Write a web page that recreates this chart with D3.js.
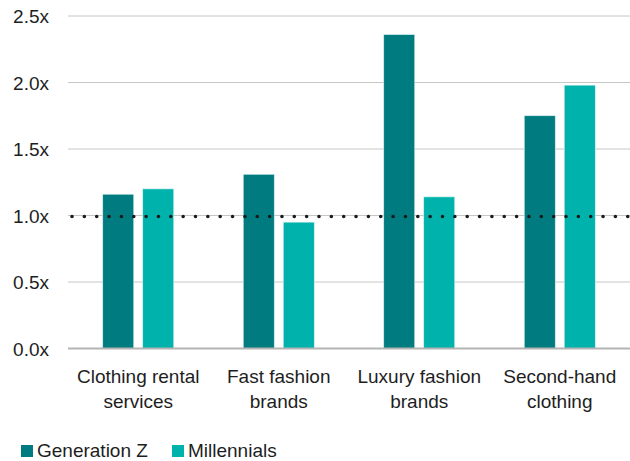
<!DOCTYPE html>
<html>
<head>
<meta charset="utf-8">
<script src="https://cdn.jsdelivr.net/npm/d3@7"></script>
<style>
  body { margin: 0; background: #fff; }
  svg text { font-family: "Liberation Sans", Arial, sans-serif; fill: #1e1e1e; }
</style>
</head>
<body>
<div id="chart"></div>
<script>
var categories = [["Clothing rental", "services"], ["Fast fashion", "brands"], ["Luxury fashion", "brands"], ["Second-hand", "clothing"]];
var seriesNames = ["Generation Z", "Millennials"];
var genZ = [1.16, 1.31, 2.36, 1.75];
var millennials = [1.20, 0.95, 1.14, 1.98];
var yTicks = [0, 0.5, 1.0, 1.5, 2.0, 2.5];
var referenceLine = 1.0;

var colors = ["#007c80", "#00b2ac"];
var width = 630, height = 461;
var margin = { top: 16, right: 0, bottom: 112.5, left: 68 };

var svg = d3.select("#chart").append("svg")
  .attr("width", width)
  .attr("height", height);

var x = d3.scaleBand()
  .domain(d3.range(categories.length))
  .range([margin.left, width - margin.right]);

var y = d3.scaleLinear()
  .domain([0, 2.5])
  .range([height - margin.bottom, margin.top]);

// gridlines
svg.append("g").selectAll("line")
  .data(yTicks.filter(function(d) { return d > 0; }))
  .enter().append("line")
  .attr("x1", margin.left).attr("x2", width - margin.right)
  .attr("y1", function(d) { return y(d); })
  .attr("y2", function(d) { return y(d); })
  .attr("stroke", "#c6c6c6")
  .attr("stroke-width", 1);

// y labels
svg.append("g").selectAll("text")
  .data(yTicks)
  .enter().append("text")
  .attr("x", 49)
  .attr("y", function(d) { return y(d) + 7; })
  .attr("text-anchor", "end")
  .style("font-size", "19px")
  .text(function(d) { return d.toFixed(1) + "x"; });

// bars
var barW = 31, gap = 9;
var series = [genZ, millennials];
series.forEach(function(vals, s) {
  svg.append("g").selectAll("rect")
    .data(vals)
    .enter().append("rect")
    .attr("x", function(d, i) {
      var c = x(i) + x.bandwidth() / 2;
      return s === 0 ? c - gap / 2 - barW : c + gap / 2;
    })
    .attr("y", function(d) { return y(d); })
    .attr("width", barW)
    .attr("height", function(d) { return y(0) - y(d); })
    .attr("fill", colors[s])
    .attr("stroke", "#d8f0ef")
    .attr("stroke-width", 0.6);
});

// baseline
svg.append("line")
  .attr("x1", margin.left).attr("x2", width - margin.right)
  .attr("y1", y(0)).attr("y2", y(0))
  .attr("stroke", "#b4b4b4")
  .attr("stroke-width", 2);

// dotted reference line
svg.append("line")
  .attr("x1", margin.left + 4).attr("x2", width)
  .attr("y1", y(referenceLine) + 1).attr("y2", y(referenceLine) + 1)
  .attr("stroke", "#1a1a1a")
  .attr("stroke-width", 3.6)
  .attr("stroke-linecap", "round")
  .attr("stroke-dasharray", "0 12.35");

// x labels
var xl = svg.append("g").selectAll("text")
  .data(categories)
  .enter().append("text")
  .attr("text-anchor", "middle")
  .attr("y", 383)
  .style("font-size", "19px");
xl.each(function(lines, i) {
  var t = d3.select(this);
  lines.forEach(function(line, j) {
    t.append("tspan")
      .attr("x", x(i) + x.bandwidth() / 2)
      .attr("dy", j === 0 ? 0 : 25)
      .text(line);
  });
});

// legend
var legendX = [21, 172];
seriesNames.forEach(function(name, s) {
  svg.append("rect")
    .attr("x", legendX[s]).attr("y", 445)
    .attr("width", 12).attr("height", 12)
    .attr("fill", colors[s]);
  svg.append("text")
    .attr("x", legendX[s] + 16).attr("y", 457)
    .style("font-size", "19px")
    .text(name);
});
</script>
</body>
</html>
